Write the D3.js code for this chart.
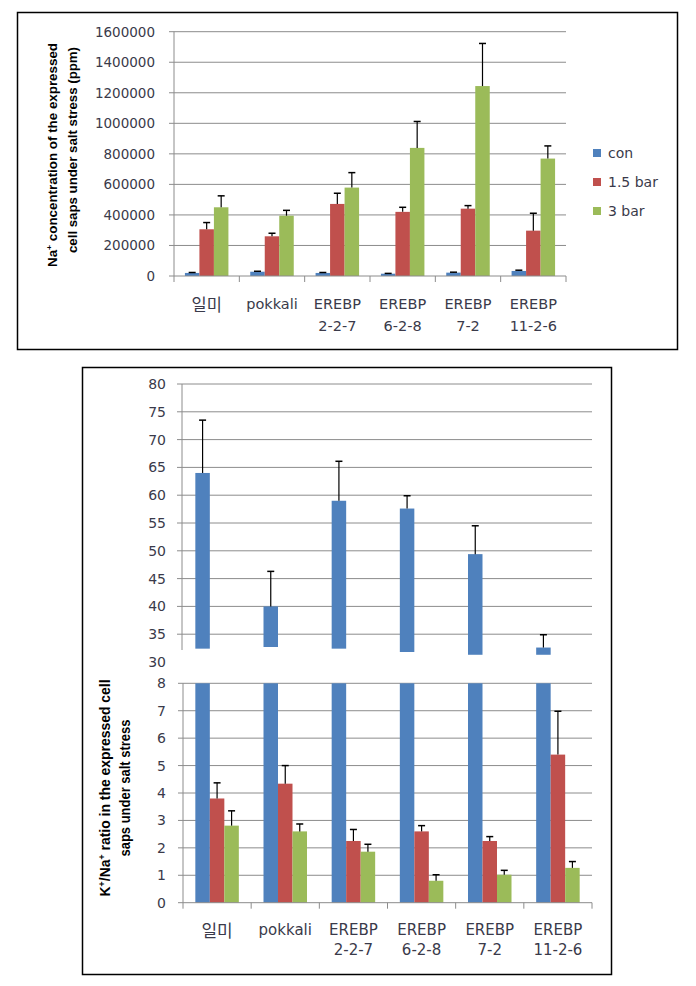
<!DOCTYPE html>
<html><head><meta charset="utf-8">
<script src="https://cdn.jsdelivr.net/npm/d3@7"></script>
<style>body{margin:0;background:#fff;} svg{display:block;}</style>
</head><body>
<svg id="c" width="696" height="986"></svg>
<script>
// ---------- DATA ----------
const categories = ["일미", "pokkali", "EREBP 2-2-7", "EREBP 6-2-8", "EREBP 7-2", "EREBP 11-2-6"];
const categoryLines = [["일미"], ["pokkali"], ["EREBP", "2-2-7"], ["EREBP", "6-2-8"], ["EREBP", "7-2"], ["EREBP", "11-2-6"]];
const seriesNames = ["con", "1.5 bar", "3 bar"];
const seriesColors = ["#4F81BD", "#C0504D", "#9BBB59"];

// Top chart: Na+ concentration (ppm)
const naCon = [20000, 28000, 20000, 15000, 22000, 33000];
const naConErr = [3000, 3000, 3000, 2000, 3000, 5000];
const na15 = [306000, 260000, 472000, 420000, 441000, 297000];
const na15Err = [44000, 20000, 70000, 30000, 20000, 114000];
const na3 = [450000, 395000, 579000, 839000, 1244000, 769000];
const na3Err = [75000, 35000, 98000, 173000, 279000, 83000];
const naTicks = [0, 200000, 400000, 600000, 800000, 1000000, 1200000, 1400000, 1600000];

// Bottom chart: K+/Na+ ratio (broken axis)
const kCon = [64, 40, 59, 57.6, 49.4, 32.6];
const kConErr = [9.5, 6.3, 7.1, 2.3, 5.1, 2.3];
const k15 = [3.8, 4.34, 2.25, 2.6, 2.25, 5.4];
const k15Err = [0.57, 0.66, 0.42, 0.21, 0.16, 1.58];
const k3 = [2.81, 2.6, 1.86, 0.8, 1.02, 1.27];
const k3Err = [0.54, 0.27, 0.27, 0.22, 0.16, 0.23];
const kUpperTicks = [35, 40, 45, 50, 55, 60, 65, 70, 75, 80];
const kUpperLabelOnly = [30];
const kLowerTicks = [0, 1, 2, 3, 4, 5, 6, 7, 8];
// where each con bar is cut off at the bottom of the upper (broken) panel
const kConCut = [32.4, 32.7, 32.4, 31.8, 31.3, 31.3];

// ---------- DRAW ----------
const svg = d3.select("#c");
const gridCol = "#8c8c8c";
const tickTextCol = "#3a3a4a";
const barW = 14.5;

function drawXAxis(g, x, yPix) {
  const [x0, x1] = x.range();
  g.append("line").attr("x1", x0).attr("x2", x1).attr("y1", yPix).attr("y2", yPix)
    .attr("stroke", gridCol).attr("stroke-width", 1);
  const bounds = categories.map(c => x(c)).concat([x1]);
  bounds.forEach(b => g.append("line").attr("x1", b).attr("x2", b).attr("y1", yPix).attr("y2", yPix + 6)
    .attr("stroke", gridCol));
}

function drawCatLabels(g, x, y1, dy, fs) {
  categories.forEach((c, i) => {
    const cx = x(c) + x.bandwidth() / 2;
    categoryLines[i].forEach((line, j) => {
      const korean = /[\uac00-\ud7a3]/.test(line);
      g.append("text").attr("x", cx).attr("y", y1 + j * dy + (korean ? 2 : 0))
        .attr("text-anchor", "middle")
        .attr("font-family", korean ? "'Noto Sans CJK KR', sans-serif" : "'DejaVu Sans', sans-serif")
        .attr("font-size", korean ? fs + 2 : fs)
        .attr("fill", tickTextCol).text(line);
    });
  });
}

function drawBars(g, x, xs, y, vals, errs, si, bases, clipTop) {
  vals.forEach((v, i) => {
    const c = categories[i];
    const base = Array.isArray(bases) ? bases[i] : bases;
    const bx = x(c) + x.bandwidth() / 2 + xs(seriesNames[si]);
    const yTop = y(Math.min(v, clipTop));
    g.append("rect").attr("x", bx).attr("y", yTop).attr("width", barW)
      .attr("height", y(base) - yTop).attr("fill", seriesColors[si]);
    if (errs && v <= clipTop) {
      const ye = y(Math.min(v + errs[i], clipTop));
      const cx = bx + barW / 2;
      g.append("line").attr("x1", cx).attr("x2", cx).attr("y1", yTop).attr("y2", ye)
        .attr("stroke", "#000").attr("stroke-width", 1.2);
      g.append("line").attr("x1", cx - 3.5).attr("x2", cx + 3.5).attr("y1", ye).attr("y2", ye)
        .attr("stroke", "#000").attr("stroke-width", 1.5);
    }
  });
}

// ===== TOP CHART =====
{
  const g = svg.append("g");
  g.append("rect").attr("x", 17.5).attr("y", 12.5).attr("width", 660).attr("height", 337)
    .attr("fill", "#fff").attr("stroke", "#000").attr("stroke-width", 1.5);
  const x = d3.scaleBand().domain(categories).range([174, 566]).padding(0);
  const xs = d3.scaleOrdinal().domain(seriesNames).range([-1.5 * barW, -0.5 * barW, 0.5 * barW]);
  const y = d3.scaleLinear().domain([0, 1600000]).range([276, 31.7]);

  naTicks.forEach(t => {
    if (t > 0) g.append("line").attr("x1", 169).attr("x2", 566).attr("y1", y(t)).attr("y2", y(t))
      .attr("stroke", gridCol).attr("stroke-width", 1);
    else g.append("line").attr("x1", 169).attr("x2", 174).attr("y1", y(t)).attr("y2", y(t)).attr("stroke", gridCol);
    g.append("text").attr("x", 155).attr("y", y(t)).attr("dy", "0.36em").attr("text-anchor", "end")
      .attr("font-family", "'DejaVu Sans', sans-serif").attr("font-size", 13.5).attr("fill", tickTextCol)
      .text(t);
  });
  g.append("line").attr("x1", 174).attr("x2", 174).attr("y1", y(1600000)).attr("y2", 276).attr("stroke", gridCol);

  drawBars(g, x, xs, y, naCon, naConErr, 0, 0, Infinity);
  drawBars(g, x, xs, y, na15, na15Err, 1, 0, Infinity);
  drawBars(g, x, xs, y, na3, na3Err, 2, 0, Infinity);
  drawXAxis(g, x, 276);
  drawCatLabels(g, x, 309, 22, 14.5);

  // legend
  seriesNames.forEach((s, i) => {
    const ly = [153, 182, 211][i];
    g.append("rect").attr("x", 593).attr("y", ly - 4).attr("width", 8).attr("height", 8).attr("fill", seriesColors[i]);
    g.append("text").attr("x", 608).attr("y", ly).attr("dy", "0.36em")
      .attr("font-family", "'DejaVu Sans', sans-serif").attr("font-size", 14).attr("fill", tickTextCol).text(s);
  });

  // y title
  const t = g.append("text").attr("transform", "translate(57,155) rotate(-90)")
    .attr("text-anchor", "middle").attr("font-family", "'Liberation Sans', Arial, sans-serif")
    .attr("font-weight", "bold").attr("font-size", 12.5).attr("fill", "#000")
    .attr("textLength", 224).attr("lengthAdjust", "spacingAndGlyphs");
  t.append("tspan").text("Na");
  t.append("tspan").attr("dy", -5).attr("font-size", 8).text("+");
  t.append("tspan").attr("dy", 5).text(" concentration of the expressed");
  g.append("text").attr("transform", "translate(77,150) rotate(-90)")
    .attr("text-anchor", "middle").attr("font-family", "'Liberation Sans', Arial, sans-serif")
    .attr("font-weight", "bold").attr("font-size", 12.5).attr("fill", "#000")
    .attr("textLength", 206).attr("lengthAdjust", "spacingAndGlyphs")
    .text("cell saps under salt stress (ppm)");
}

// ===== BOTTOM CHART =====
{
  const g = svg.append("g");
  g.append("rect").attr("x", 82.5).attr("y", 367.5).attr("width", 529).attr("height", 607)
    .attr("fill", "#fff").attr("stroke", "#000").attr("stroke-width", 1.5);
  const x = d3.scaleBand().domain(categories).range([183, 592]).padding(0);
  const xs = d3.scaleOrdinal().domain(seriesNames).range([-1.5 * barW, -0.5 * barW, 0.5 * barW]);
  const yU = d3.scaleLinear().domain([30, 80]).range([662, 384]);
  const yL = d3.scaleLinear().domain([0, 8]).range([902.7, 683.3]);
  const font = "'DejaVu Sans', sans-serif";

  // upper panel grid + labels
  kUpperTicks.forEach(t => {
    g.append("line").attr("x1", 177).attr("x2", 592).attr("y1", yU(t)).attr("y2", yU(t))
      .attr("stroke", gridCol);
  });
  kUpperTicks.concat(kUpperLabelOnly).forEach(t => {
    g.append("text").attr("x", 166).attr("y", yU(t)).attr("dy", "0.36em").attr("text-anchor", "end")
      .attr("font-family", font).attr("font-size", 14).attr("fill", tickTextCol).text(t);
  });
  g.append("line").attr("x1", 182).attr("x2", 182).attr("y1", yU(80)).attr("y2", 650).attr("stroke", gridCol);

  // lower panel grid + labels
  kLowerTicks.forEach(t => {
    if (t > 0) g.append("line").attr("x1", 178).attr("x2", 592).attr("y1", yL(t)).attr("y2", yL(t)).attr("stroke", gridCol);
    else g.append("line").attr("x1", 178).attr("x2", 183).attr("y1", yL(t)).attr("y2", yL(t)).attr("stroke", gridCol);
    g.append("text").attr("x", 166).attr("y", yL(t)).attr("dy", "0.36em").attr("text-anchor", "end")
      .attr("font-family", font).attr("font-size", 14).attr("fill", tickTextCol).text(t);
  });
  g.append("line").attr("x1", 183).attr("x2", 183).attr("y1", yL(8)).attr("y2", yL(0)).attr("stroke", gridCol);

  // bars
  drawBars(g, x, xs, yU, kCon, kConErr, 0, kConCut, Infinity);
  drawBars(g, x, xs, yL, kCon, null, 0, 0, 8);
  drawBars(g, x, xs, yL, k15, k15Err, 1, 0, 8);
  drawBars(g, x, xs, yL, k3, k3Err, 2, 0, 8);
  drawXAxis(g, x, 902.7);
  drawCatLabels(g, x, 935, 20, 15);

  // y title
  const t = g.append("text").attr("transform", "translate(110,788) rotate(-90)")
    .attr("text-anchor", "middle").attr("font-family", "'Liberation Sans', Arial, sans-serif")
    .attr("font-weight", "bold").attr("font-size", 14).attr("fill", "#000")
    .attr("textLength", 217).attr("lengthAdjust", "spacingAndGlyphs");
  t.append("tspan").text("K");
  t.append("tspan").attr("dy", -5).attr("font-size", 9).text("+");
  t.append("tspan").attr("dy", 5).text("/Na");
  t.append("tspan").attr("dy", -5).attr("font-size", 9).text("+");
  t.append("tspan").attr("dy", 5).text(" ratio in the expressed cell");
  g.append("text").attr("transform", "translate(130,788) rotate(-90)")
    .attr("text-anchor", "middle").attr("font-family", "'Liberation Sans', Arial, sans-serif")
    .attr("font-weight", "bold").attr("font-size", 14).attr("fill", "#000")
    .attr("textLength", 137).attr("lengthAdjust", "spacingAndGlyphs")
    .text("saps under salt stress");
}
</script>
</body></html>
